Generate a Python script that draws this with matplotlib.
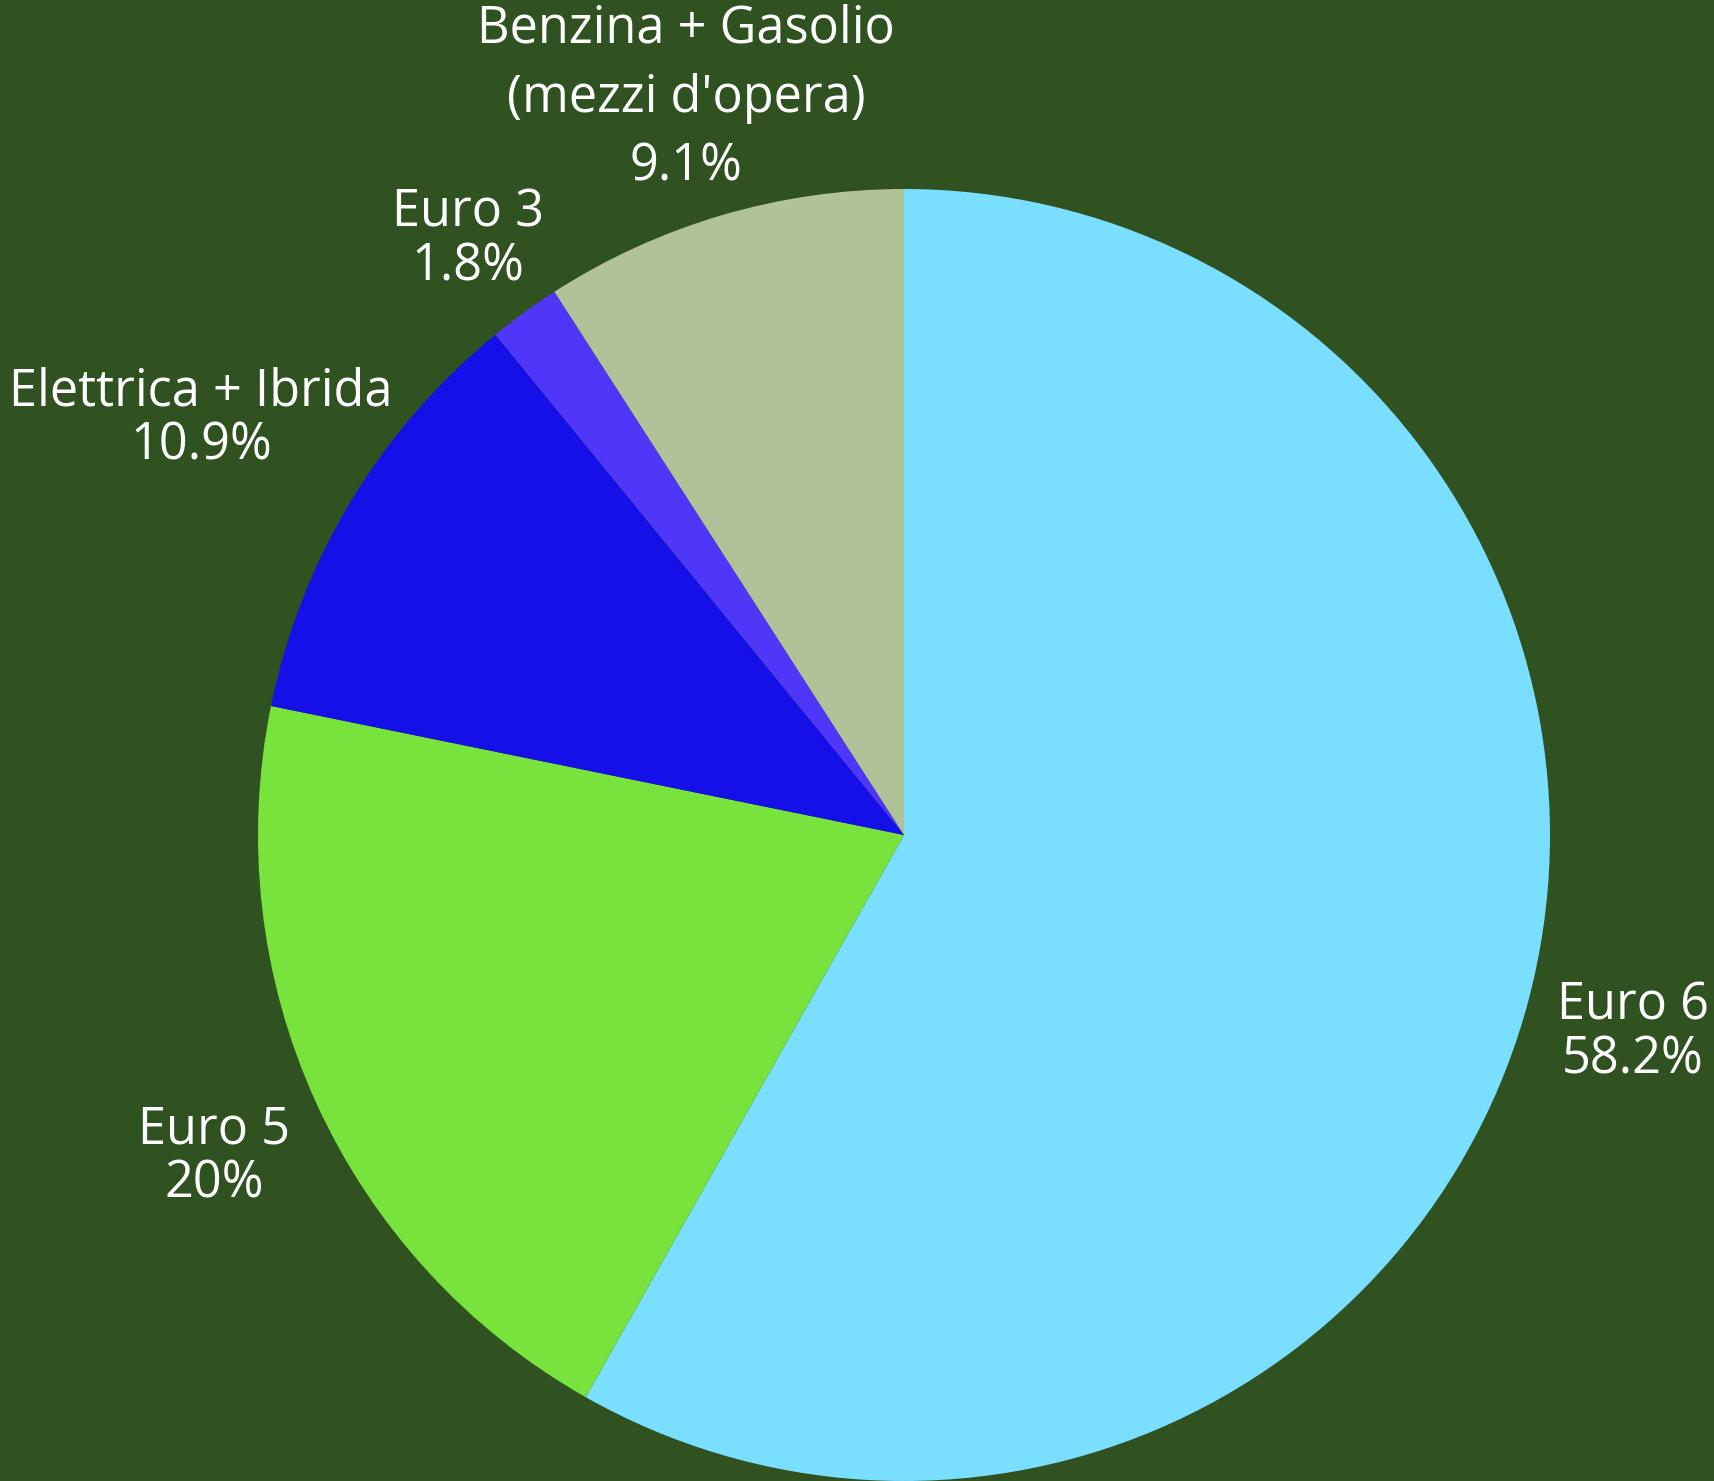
import matplotlib
matplotlib.use('Agg')
from matplotlib import pyplot as plt

# data
labels = ['Euro 6', 'Euro 5', 'Elettrica + Ibrida', 'Euro 3', "Benzina + Gasolio\n(mezzi d'opera)"]
shares = [58.2, 20, 10.9, 1.8, 9.1]
pct_text = ['58.2%', '20%', '10.9%', '1.8%', '9.1%']
colors = ['#7ADFFE', '#79E33E', '#1510E8', '#5036F8', '#B2C298']

bg = '#2F5220'
plt.rcParams['font.family'] = ['Open Sans', 'DejaVu Sans']

W, H = 1714, 1481
fig = plt.figure(figsize=(W / 100, H / 100), dpi=100, facecolor=bg)
ax = fig.add_axes([0, 0, 1, 1])
ax.set_facecolor(bg)

ax.pie(shares, colors=colors, startangle=90, counterclock=False,
       center=(904, H - 835), radius=646, frame=True,
       wedgeprops=dict(linewidth=0))
ax.set_xlim(0, W)
ax.set_ylim(0, H)
ax.set_aspect('equal')
ax.axis('off')

# label positions (pixel coords from top-left): x, y of the text block centre
label_pos = [(1633, 1033), (214, 1157), (201, 419), (468, 240), (686, 98)]
spacing = [1.08, 1.08, 1.08, 1.08, 1.45]
for name, pct, (x, y), ls in zip(labels, pct_text, label_pos, spacing):
    ax.text(x, H - y, f'{name}\n{pct}', ha='center', va='center',
            color='white', fontsize=36.4, linespacing=ls, multialignment='center')

fig.savefig('out.png', dpi=100, facecolor=bg)
